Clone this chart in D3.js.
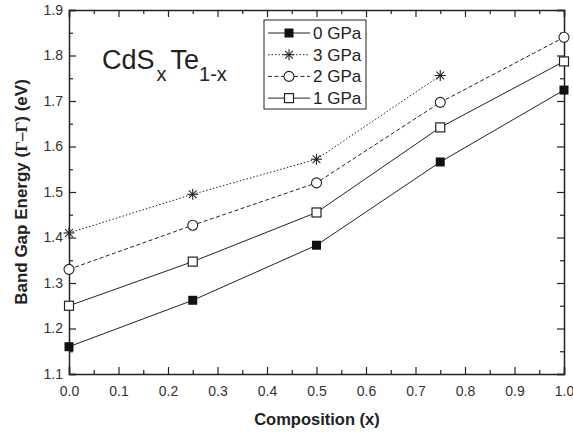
<!DOCTYPE html>
<html>
<head>
<meta charset="utf-8">
<script src="https://cdn.jsdelivr.net/npm/d3@7"></script>
<style>
  body { margin: 0; background: #fff; }
  text { font-family: "Liberation Sans", Arial, sans-serif; fill: #222; }
</style>
</head>
<body>
<div class="chart"></div>
<script>
// Data
var composition = [0, 0.25, 0.5, 0.75, 1.0];
var gap0GPa = [1.160, 1.262, 1.383, 1.566, 1.724];
var gap3GPa = [1.410, 1.495, 1.572, 1.756];
var gap2GPa = [1.330, 1.427, 1.520, 1.697, 1.840];
var gap1GPa = [1.250, 1.347, 1.455, 1.642, 1.787];
var seriesNames = ['0 GPa', '3 GPa', '2 GPa', '1 GPa'];
var xTicks = [0, 0.1, 0.2, 0.3, 0.4, 0.5, 0.6, 0.7, 0.8, 0.9, 1.0];
var yTicks = [1.1, 1.2, 1.3, 1.4, 1.5, 1.6, 1.7, 1.8, 1.9];

var svgWidth = 573, svgHeight = 437;
var margin = { top: 10, right: 9, bottom: 63, left: 69 };
var width = svgWidth - margin.left - margin.right;
var height = svgHeight - margin.top - margin.bottom;

var svg = d3.select('.chart').append('svg')
  .attr('width', svgWidth).attr('height', svgHeight);
var g = svg.append('g').attr('transform', `translate(${margin.left},${margin.top})`);

var xScale = d3.scaleLinear().domain([0, 1]).range([0, width]);
var yScale = d3.scaleLinear().domain([1.1, 1.9]).range([height, 0]);

var series = [
  { name: seriesNames[0], values: gap0GPa, dash: null, marker: 'fsquare' },
  { name: seriesNames[1], values: gap3GPa, dash: '1.5,2', marker: 'star' },
  { name: seriesNames[2], values: gap2GPa, dash: '4,2.5', marker: 'circle' },
  { name: seriesNames[3], values: gap1GPa, dash: null, marker: 'osquare' }
];

// Axes: major ticks inward, minor ticks between
function axisGroup(axis, transform) {
  var a = g.append('g').attr('transform', transform).call(axis);
  a.select('.domain').attr('stroke', '#222').attr('stroke-width', 1.5);
  a.selectAll('.tick line').attr('stroke', '#222').attr('stroke-width', 1.2);
  return a;
}
var minorX = d3.range(0.05, 1, 0.1);
var minorY = d3.range(1.15, 1.9, 0.1);

var xb = axisGroup(d3.axisBottom(xScale).tickValues(xTicks).tickSize(-7).tickPadding(12).tickFormat(d3.format('.1f')),
  `translate(0,${height})`);
xb.selectAll('text').attr('font-size', 14).style('fill', '#333');
axisGroup(d3.axisBottom(xScale).tickValues(minorX).tickSize(-4).tickFormat(''), `translate(0,${height})`)
  .select('.domain').remove();
axisGroup(d3.axisTop(xScale).tickValues(xTicks).tickSize(-7).tickFormat(''), 'translate(0,0)');
axisGroup(d3.axisTop(xScale).tickValues(minorX).tickSize(-4).tickFormat(''), 'translate(0,0)')
  .select('.domain').remove();

var yl = axisGroup(d3.axisLeft(yScale).tickValues(yTicks).tickSize(-7).tickPadding(6).tickFormat(d3.format('.1f')),
  'translate(0,0)');
yl.selectAll('text').attr('font-size', 14).style('fill', '#333');
axisGroup(d3.axisLeft(yScale).tickValues(minorY).tickSize(-4).tickFormat(''), 'translate(0,0)')
  .select('.domain').remove();
axisGroup(d3.axisRight(yScale).tickValues(yTicks).tickSize(-7).tickFormat(''), `translate(${width},0)`);
axisGroup(d3.axisRight(yScale).tickValues(minorY).tickSize(-4).tickFormat(''), `translate(${width},0)`)
  .select('.domain').remove();

// Markers
function drawMarker(sel, type, x, y) {
  var s = 4.5;
  if (type === 'fsquare') {
    sel.append('rect').attr('x', x - s).attr('y', y - s).attr('width', 2 * s).attr('height', 2 * s)
      .attr('fill', '#111');
  } else if (type === 'osquare') {
    sel.append('rect').attr('x', x - s).attr('y', y - s).attr('width', 2 * s).attr('height', 2 * s)
      .attr('fill', '#fff').attr('stroke', '#222').attr('stroke-width', 1.2);
  } else if (type === 'circle') {
    sel.append('circle').attr('cx', x).attr('cy', y).attr('r', 5)
      .attr('fill', '#fff').attr('stroke', '#222').attr('stroke-width', 1.1);
  } else if (type === 'star') {
    var r = 5.5;
    [0, 45, 90, 135].forEach(function(a) {
      var rad = a * Math.PI / 180;
      sel.append('line')
        .attr('x1', x - r * Math.cos(rad)).attr('y1', y - r * Math.sin(rad))
        .attr('x2', x + r * Math.cos(rad)).attr('y2', y + r * Math.sin(rad))
        .attr('stroke', '#222').attr('stroke-width', 1.1);
    });
  }
}

var line = d3.line().x((d, i) => xScale(composition[i])).y(d => yScale(d));

series.forEach(function(s) {
  g.append('path').datum(s.values)
    .attr('d', line)
    .attr('fill', 'none')
    .attr('stroke', '#222')
    .attr('stroke-width', 1)
    .attr('stroke-dasharray', s.dash);
  var mg = g.append('g');
  s.values.forEach(function(v, i) {
    drawMarker(mg, s.marker, xScale(composition[i]), yScale(v));
  });
});

// Legend
var legend = svg.append('g').attr('transform', 'translate(264,20)');
legend.append('rect').attr('x', 0).attr('y', 0).attr('width', 102).attr('height', 89)
  .attr('fill', '#fff').attr('stroke', '#222').attr('stroke-width', 1);
series.forEach(function(s, i) {
  var y = 13 + i * 21.7;
  legend.append('line').attr('x1', 4).attr('x2', 46).attr('y1', y).attr('y2', y)
    .attr('stroke', '#222').attr('stroke-width', 1).attr('stroke-dasharray', s.dash);
  drawMarker(legend, s.marker, 25, y);
  legend.append('text').attr('x', 49).attr('y', y + 6).attr('font-size', 17).text(s.name);
});

// Compound label
var title = svg.append('text').attr('x', 102).attr('y', 69).attr('font-size', 27);
title.append('tspan').text('CdS');
title.append('tspan').attr('dy', 12).attr('dx', 2).attr('font-size', 20).text('x');
title.append('tspan').attr('dy', -12).attr('dx', 4).text('Te');
title.append('tspan').attr('dy', 12).attr('font-size', 20).text('1-x');

// Axis titles
svg.append('text')
  .attr('x', 317).attr('y', 425)
  .attr('text-anchor', 'middle').attr('font-size', 16.5).attr('font-weight', 'bold')
  .text('Composition (x)');

var yt = svg.append('text')
  .attr('transform', 'translate(27,192) rotate(-90)')
  .attr('text-anchor', 'middle').attr('font-size', 17).attr('font-weight', 'bold');
yt.append('tspan').text('Band Gap Energy (');
yt.append('tspan').style('font-family', '"Liberation Serif", serif').text('Γ–Γ');
yt.append('tspan').text(') (eV)');
</script>
</body>
</html>
